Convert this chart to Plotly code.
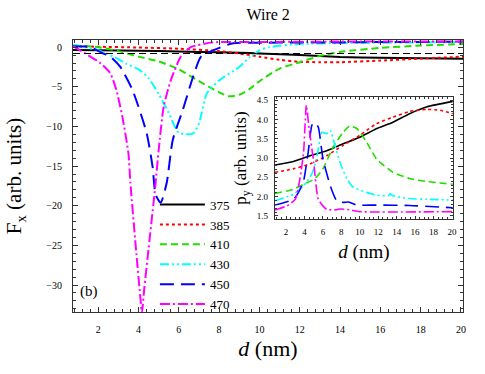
import plotly.graph_objects as go

# ---------------- data: main panel (F_x) ----------------
labels = ["375", "385", "410", "430", "450", "470"]
colors = ["black", "red", "#22dd00", "cyan", "blue", "magenta"]

x375 = [0.75, 2, 4, 6, 8, 9, 10, 12, 14, 16, 18, 20.1]
y375 = [-0.35, -0.38, -0.45, -0.55, -0.65, -0.7, -0.8, -1.0, -1.25, -1.35, -1.4, -1.45]

x385 = [0.75, 2, 4, 6, 8, 9, 10, 11, 12, 13, 14, 16, 18, 20.1]
y385 = [0.1, 0.05, -0.05, -0.2, -0.5, -0.8, -1.2, -1.6, -1.85, -1.9, -1.9, -1.7, -1.45, -1.2]

x410 = [0.75, 2, 3, 4, 5, 6, 7, 7.5, 8, 8.5, 9, 9.5, 10, 11, 12, 13, 14, 16, 18, 20.1]
y410 = [0.2, 0.0, -0.5, -1.2, -1.8, -2.8, -4.3, -5.0, -5.7, -6.2, -6.0, -5.3, -4.3, -2.7, -1.9, -1.1, -0.6, -0.1, 0.2, 0.4]

x430 = [0.75, 2, 3, 3.4, 4, 4.5, 5, 5.5, 6, 6.7, 7, 7.4, 8, 9, 9.5, 10, 10.5, 12, 14, 16, 18, 20.1]
y430 = [0.3, -0.4, -1.5, -2.1, -2.8, -3.9, -5.9, -8.3, -10.8, -10.9, -9.6, -5.8, -4.2, -2.5, -1.3, -0.4, 0.0, 0.4, 0.5, 0.55, 0.6, 0.65]

x450 = [0.75, 1.6, 2.25, 2.6, 3.1, 3.7, 4.4, 4.7, 4.85, 5.1, 5.4, 5.7, 6.2, 6.7, 7.1, 7.7, 8.7, 10, 12, 14, 16, 18, 20.1]
y450 = [0.1, 0.0, -0.8, -1.2, -2.5, -5.4, -10.8, -15.1, -18.6, -19.6, -17.1, -11.7, -7.9, -3.8, -1.2, -0.4, 0.5, 0.55, 0.6, 0.6, 0.65, 0.65, 0.7]

x470 = [0.75, 1.1, 2.1, 2.6, 2.9, 3.2, 3.5, 3.6, 3.9, 4.1, 4.17, 4.28, 4.5, 4.83, 5.0, 5.25, 5.6, 6.1, 6.6, 7.7, 10, 14, 20.1]
y470 = [0.15, -0.4, -2.0, -3.3, -5.4, -8.8, -13.4, -17.2, -26.2, -31.8, -33.5, -30.6, -25.4, -17.6, -13.0, -7.5, -4.2, -1.2, 0.0, 0.6, 0.65, 0.7, 0.7]

ref_x = [0.75, 20.1]
ref_level = [-0.8, -0.8]

# ---------------- data: inset (p_y) ----------------
ix375 = [0.8, 2.8, 4.6, 6.4, 8.2, 10.0, 11.8, 13.6, 15.4, 17.3, 20.1]
iy375 = [2.82, 2.91, 3.06, 3.19, 3.37, 3.54, 3.76, 3.93, 4.15, 4.33, 4.47]

ix385 = [0.8, 2.8, 4.6, 6.4, 8.2, 10.0, 11.8, 13.6, 15.4, 17.3, 18.7, 20.1]
iy385 = [2.63, 2.72, 2.85, 3.06, 3.33, 3.59, 3.89, 4.06, 4.21, 4.26, 4.24, 4.15]

ix410 = [0.8, 2.8, 3.9, 5.1, 6.0, 7.1, 8.2, 8.9, 9.7, 10.75, 11.8, 13.6, 15.4, 17.3, 20.1]
iy410 = [2.08, 2.19, 2.32, 2.46, 2.72, 3.28, 3.67, 3.83, 3.76, 3.41, 2.98, 2.63, 2.47, 2.39, 2.32]

ix430 = [0.8, 2.8, 3.9, 4.8, 5.3, 5.9, 6.4, 6.8, 7.3, 7.85, 8.6, 9.3, 10.75, 11.8, 13.1, 13.3, 13.6, 15.4, 17.3, 20.1]
iy430 = [1.89, 2.06, 2.28, 2.59, 2.98, 3.67, 3.63, 3.72, 3.33, 2.89, 2.46, 2.24, 2.11, 2.04, 2.02, 2.07, 2.02, 1.95, 1.93, 1.91]

ix450 = [0.8, 2.8, 3.35, 3.9, 4.4, 4.8, 5.1, 5.5, 6.0, 6.8, 7.5, 8.2, 8.8, 9.7, 11.8, 15.4, 20.1]
iy450 = [1.78, 1.93, 2.11, 2.41, 3.15, 3.85, 3.93, 3.80, 2.98, 2.28, 1.89, 1.85, 1.86, 1.78, 1.78, 1.77, 1.71]

ix470 = [0.8, 2.1, 3.0, 3.5, 3.9, 4.2, 4.5, 5.0, 5.5, 6.4, 7.5, 7.85, 8.9, 10.0, 20.1]
iy470 = [1.65, 1.76, 1.93, 2.46, 3.15, 4.37, 3.76, 2.89, 1.93, 1.67, 1.66, 1.68, 1.66, 1.61, 1.61]

main_x = [x375, x385, x410, x430, x450, x470]
main_y = [y375, y385, y410, y430, y450, y470]
ins_x = [ix375, ix385, ix410, ix430, ix450, ix470]
ins_y = [iy375, iy385, iy410, iy430, iy450, iy470]

dashes = ["solid", "dot", "7px,4px", "9px,3px,2px,3px,2px,3px", "14px,7px", "10px,3px,2px,3px"]

FONT = "Liberation Serif, Times New Roman, Times, serif"

fig = go.Figure()
for lab, c, d, xs, ys in zip(labels, colors, dashes, main_x, main_y):
    fig.add_trace(go.Scatter(x=xs, y=ys, mode="lines", name=lab,
                             line=dict(color=c, width=2, dash=d, shape="spline", smoothing=0.6),
                             xaxis="x", yaxis="y"))
fig.add_trace(go.Scatter(x=ref_x, y=ref_level, mode="lines", showlegend=False,
                         line=dict(color="black", width=1.2, dash="7px,4px"), xaxis="x", yaxis="y"))
for lab, c, d, xs, ys in zip(labels, colors, dashes, ins_x, ins_y):
    fig.add_trace(go.Scatter(x=xs, y=ys, mode="lines", name=lab, showlegend=False,
                             line=dict(color=c, width=1.6, dash=d, shape="spline", smoothing=0.5),
                             xaxis="x2", yaxis="y2"))

axis_common = dict(showline=True, linecolor="#333", linewidth=1.2, mirror="ticks",
                   ticks="inside", tickcolor="#333", showgrid=False, zeroline=False,
                   automargin=False)

fig.update_layout(
    width=485, height=374,
    margin=dict(l=73, r=22, t=40, b=62, autoexpand=False),
    paper_bgcolor="white", plot_bgcolor="white",
    font=dict(family=FONT, color="black"),
    title=dict(text="Wire 2", x=0.553, xanchor="center", y=0.962, yanchor="middle",
               font=dict(size=16, family=FONT)),
    xaxis=dict(range=[0.75, 20.1], domain=[0, 1], tickvals=[2, 4, 6, 8, 10, 12, 14, 16, 18, 20],
               ticklen=5, tickfont=dict(size=10, family=FONT), anchor="y", ticklabelstandoff=8,
               minor=dict(ticks="inside", ticklen=3, dtick=0.4, tick0=0, tickcolor="#333"),
               title=dict(text="<i>d</i> (nm)", font=dict(size=22, family=FONT), standoff=6),
               **axis_common),
    yaxis=dict(range=[-33.4, 0.9], domain=[0, 1], tickvals=[0, -5, -10, -15, -20, -25, -30],
               ticklen=5, tickfont=dict(size=10, family=FONT), anchor="x", ticklabelstandoff=8,
               minor=dict(ticks="inside", ticklen=3, dtick=1, tick0=0, tickcolor="#333"),
               title=dict(text="F<sub>x</sub> (arb. units)", font=dict(size=21, family=FONT), standoff=18),
               **axis_common),
    xaxis2=dict(range=[0.8, 20.1], domain=[0.518, 0.974], anchor="y2",
                tickvals=[2, 4, 6, 8, 10, 12, 14, 16, 18, 20], ticklen=3,
                tickfont=dict(size=9, family=FONT), ticklabelstandoff=4,
                minor=dict(ticks="inside", ticklen=2, dtick=0.5, tick0=0, tickcolor="#333"),
                title=dict(text="<i>d</i> (nm)", font=dict(size=19, family=FONT), standoff=8),
                **axis_common),
    yaxis2=dict(range=[1.42, 4.58], domain=[0.342, 0.79], anchor="x2",
                tickvals=[1.5, 2.0, 2.5, 3.0, 3.5, 4.0, 4.5], tickformat=".1f", ticklen=3,
                tickfont=dict(size=9, family=FONT), ticklabelstandoff=4,
                minor=dict(ticks="inside", ticklen=2, dtick=0.1, tick0=0, tickcolor="#333"),
                title=dict(text="p<sub>y</sub> (arb. units)", font=dict(size=17, family=FONT), standoff=5),
                **axis_common),
    legend=dict(x=0.21, y=0.45, xanchor="left", yanchor="top", bgcolor="rgba(0,0,0,0)",
                font=dict(size=13, family=FONT), itemwidth=45, tracegroupgap=0),
    showlegend=True,
    annotations=[dict(text="(b)", x=0.04, y=0.075, xref="paper", yref="paper",
                      xanchor="center", yanchor="middle", showarrow=False,
                      font=dict(size=15, family=FONT))],
)

fig.write_html("out.html", config={"displayModeBar": False},
               post_script="document.body.style.margin='0px';")
